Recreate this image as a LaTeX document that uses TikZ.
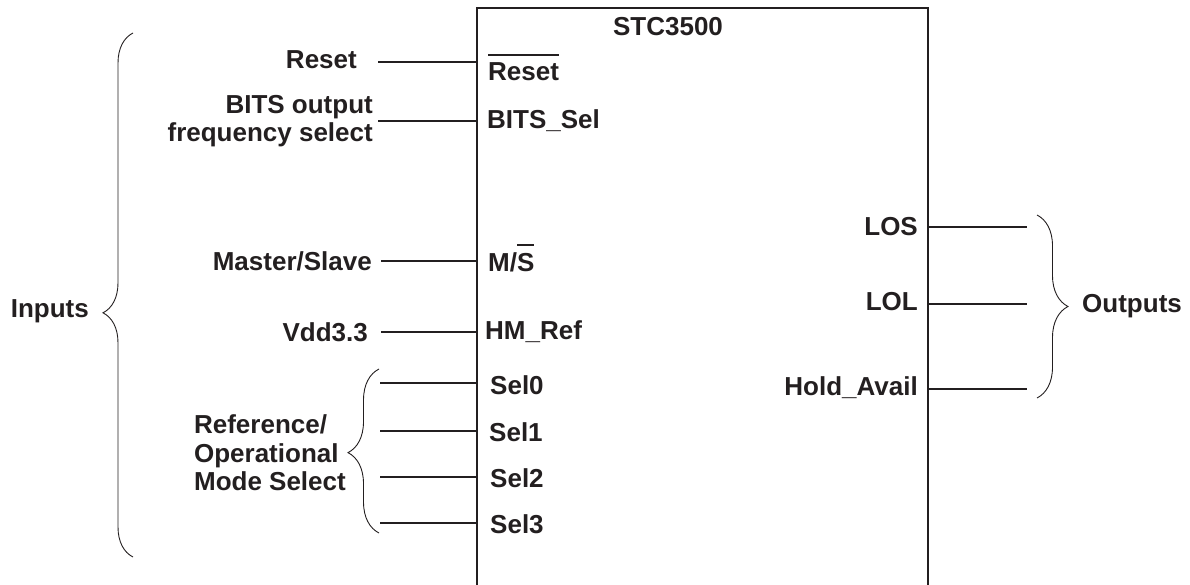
\documentclass[tikz,border=0pt]{standalone}
\usepackage{fontspec}
\setmainfont{Liberation Sans}
\usetikzlibrary{decorations.pathreplacing}
\definecolor{ink}{HTML}{231F20}
\newcommand\barred[1]{\leavevmode\vbox{\hrule height 2pt\kern 7pt\hbox{#1}}}
\tikzset{
  lbl/.style={font=\bfseries\fontsize{26}{28.5}\selectfont, text=ink, inner sep=0pt},
  wire/.style={draw=ink, line width=1.8pt},
  bracepath/.style={draw=ink, line width=0.9pt, decorate, decoration={brace, amplitude=#1}}
}
\begin{document}
\begin{tikzpicture}[x=1pt,y=-1pt]
        \useasboundingbox (0,0) rectangle (1190,585);
        \clip (0,0) rectangle (1190,585);
        % chip outline (bottom runs off the page)
        \draw[wire, line width=2pt] (477,600) |- (928,8) -- (928,600);
        \node[lbl] (chip) at (668,27) {STC3500};
        % pins on the left side
        \node[lbl, anchor=base west] (pReset) at (488,81) {\barred{Reset}};
        \node[lbl, anchor=west] (pBits) at (487,121) {BITS\_Sel};
        \node[lbl, anchor=base west] (pMS) at (488,271) {M/\barred{S}};
        \node[lbl, anchor=west] (pHM) at (485,332) {HM\_Ref};
        \node[lbl, anchor=west] (pSel0) at (490,385) {Sel0};
        \node[lbl, anchor=west] (pSel1) at (489,432) {Sel1};
        \node[lbl, anchor=west] (pSel2) at (490,478) {Sel2};
        \node[lbl, anchor=west] (pSel3) at (490,524) {Sel3};
        % pins on the right side
        \node[lbl, anchor=east] (pLOS) at (918,227) {LOS};
        \node[lbl, anchor=east] (pLOL) at (918,302) {LOL};
        \node[lbl, anchor=east] (pHold) at (918,388) {Hold\_Avail};
        % outside labels
        \node[lbl, anchor=east] (lReset) at (357,60) {Reset};
        \node[lbl, anchor=east, align=right] (lBits) at (373,121) {BITS output\\frequency select};
        \node[lbl, anchor=east] (lMS) at (372,261) {Master/Slave};
        \node[lbl, anchor=east] (lVdd) at (368,332) {Vdd3.3};
        \node[lbl, anchor=east, align=left] (lMode) at (346,453) {Reference/\\Operational\\Mode Select};
        \node[lbl, anchor=east] (lIn) at (89,311) {Inputs};
        \node[lbl, anchor=west] (lOut) at (1082,306) {Outputs};
        % wire ends
        \coordinate (aReset) at (378,62);   \coordinate (bReset) at (477,62);
        \coordinate (aBits) at (378,121);   \coordinate (bBits) at (477,121);
        \coordinate (aMS) at (381,261);     \coordinate (bMS) at (477,261);
        \coordinate (aHM) at (381,332);     \coordinate (bHM) at (477,332);
        \coordinate (aSel0) at (380,383);   \coordinate (bSel0) at (477,383);
        \coordinate (aSel1) at (380,431);   \coordinate (bSel1) at (477,431);
        \coordinate (aSel2) at (380,477);   \coordinate (bSel2) at (477,477);
        \coordinate (aSel3) at (380,523);   \coordinate (bSel3) at (477,523);
        \coordinate (aLOS) at (928,227);    \coordinate (bLOS) at (1027,227);
        \coordinate (aLOL) at (928,304);    \coordinate (bLOL) at (1027,304);
        \coordinate (aHold) at (928,389);   \coordinate (bHold) at (1027,389);
        \foreach \p in {Reset,Bits,MS,HM,Sel0,Sel1,Sel2,Sel3,LOS,LOL,Hold}
            \draw[wire] (a\p) -- (b\p);
        % braces
        \coordinate (inBot) at (133,557);   \coordinate (inTop) at (133,33);
        \coordinate (mdBot) at (379,533);   \coordinate (mdTop) at (379,369);
        \coordinate (outTop) at (1037,215); \coordinate (outBot) at (1037,398);
        \draw[bracepath=30pt, decoration={aspect=0.466}] (inBot) -- (inTop);
        \draw[bracepath=31pt, decoration={aspect=0.49}] (mdBot) -- (mdTop);
        \draw[bracepath=31pt] (outTop) -- (outBot);
    \end{tikzpicture}
\end{document}
